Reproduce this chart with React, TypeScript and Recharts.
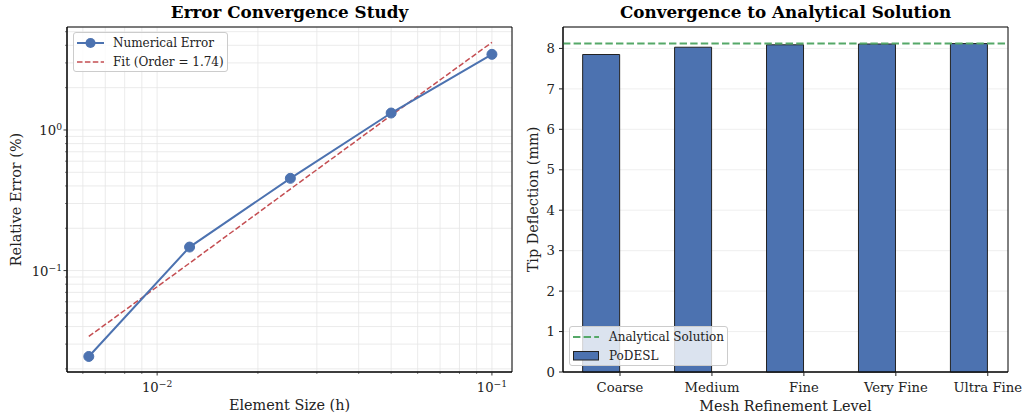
import {
  Bar,
  BarChart,
  CartesianGrid,
  Legend,
  Line,
  LineChart,
  ReferenceArea,
  ReferenceLine,
  XAxis,
  YAxis,
} from "recharts";

const FONT = "'DejaVu Serif', serif";
const TEXT = "#222";

// left panel: error vs element size (log-log)
const elementSizes = [0.00625, 0.0125, 0.025, 0.05, 0.1];
const relativeErrors = [0.0245, 0.147, 0.453, 1.32, 3.45];
const fitErrors = [0.034, 0.113, 0.38, 1.27, 4.2];
const fitOrder = 1.74;
const xDomain = [0.00538, 0.1148];
const yDomain = [0.019, 5.4];
const xLogTicks = [0.006, 0.007, 0.008, 0.009, 0.01, 0.02, 0.03, 0.04, 0.05, 0.06, 0.07, 0.08, 0.09, 0.1];
const yLogTicks = [
  0.02, 0.03, 0.04, 0.05, 0.06, 0.07, 0.08, 0.09,
  0.1, 0.2, 0.3, 0.4, 0.5, 0.6, 0.7, 0.8, 0.9,
  1, 2, 3, 4, 5,
];

// right panel: tip deflection per mesh level
const meshLevels = ["Coarse", "Medium", "Fine", "Very Fine", "Ultra Fine"];
const tipDeflection = [7.85, 8.03, 8.09, 8.11, 8.12];
const analyticalSolution = 8.125;
const deflectionTicks = [0, 1, 2, 3, 4, 5, 6, 7, 8];
const levelDomain = [-0.62, 4.22];
const deflectionDomain = [0, 8.53];
const barWidth = 0.4;

const errorData = elementSizes.map((h, i) => ({
  h,
  err: relativeErrors[i],
  fit: fitErrors[i],
}));

const deflectionData = meshLevels.map((name, i) => ({
  name,
  pos: i - barWidth / 2,
  value: tipDeflection[i],
}));

const isMajor = (v: number) => {
  const l = Math.log10(v);
  return Math.abs(l - Math.round(l)) < 1e-6;
};

const expLabel = (v: number) => {
  const e = Math.round(Math.log10(v));
  return e < 0 ? `\u2212${-e}` : `${e}`;
};

function LogXTick({ x, y, payload }: any) {
  const major = isMajor(payload.value);
  return (
    <g>
      <line x1={x} x2={x} y1={y} y2={y + (major ? 3.5 : 2)} stroke={TEXT} strokeWidth={major ? 0.9 : 0.6} />
      {major && (
        <text x={x} y={y + 20} textAnchor="middle" fontSize={13.2} fill={TEXT} fontFamily={FONT}>
          10
          <tspan dy={-5} fontSize={9.2}>
            {expLabel(payload.value)}
          </tspan>
        </text>
      )}
    </g>
  );
}

function LogYTick({ x, y, payload }: any) {
  const major = isMajor(payload.value);
  return (
    <g>
      <line x1={x - (major ? 3.5 : 2)} x2={x} y1={y} y2={y} stroke={TEXT} strokeWidth={major ? 0.9 : 0.6} />
      {major && (
        <text x={x - 5} y={y + 5} textAnchor="end" fontSize={13.2} fill={TEXT} fontFamily={FONT}>
          10
          <tspan dy={-4.5} fontSize={9.2}>
            {expLabel(payload.value)}
          </tspan>
        </text>
      )}
    </g>
  );
}

const legendBox = {
  background: "rgba(255,255,255,0.8)",
  border: "1px solid #cccccc",
  borderRadius: 3,
  boxSizing: "border-box" as const,
  fontFamily: FONT,
  fontSize: 12,
  color: TEXT,
  padding: "1px 0 0 3px",
  lineHeight: "18.5px",
  height: 40,
  whiteSpace: "nowrap" as const,
};

function ErrorLegend() {
  return (
    <div style={{ ...legendBox, width: 155 }}>
      <div style={{ display: "flex", alignItems: "center" }}>
        <svg width={27} height={12} style={{ marginRight: 9 }}>
          <line x1={0} x2={27} y1={6} y2={6} stroke="#4c72b0" strokeWidth={2} />
          <circle cx={13.5} cy={6} r={5} fill="#4c72b0" />
        </svg>
        Numerical Error
      </div>
      <div style={{ display: "flex", alignItems: "center" }}>
        <svg width={27} height={12} style={{ marginRight: 9 }}>
          <line x1={0} x2={27} y1={6} y2={6} stroke="#c44e52" strokeWidth={1.5} strokeDasharray="5.5 2.4" />
        </svg>
        {`Fit (Order = ${fitOrder.toFixed(2)})`}
      </div>
    </div>
  );
}

function DeflectionLegend() {
  return (
    <div style={{ ...legendBox, width: 159 }}>
      <div style={{ display: "flex", alignItems: "center" }}>
        <svg width={26} height={12} style={{ marginRight: 10 }}>
          <line x1={0} x2={26} y1={6} y2={6} stroke="#55a868" strokeWidth={2} strokeDasharray="7.4 3.2" />
        </svg>
        Analytical Solution
      </div>
      <div style={{ display: "flex", alignItems: "center" }}>
        <svg width={26} height={12} style={{ marginRight: 10 }}>
          <rect x={0.5} y={1.5} width={25} height={8.5} fill="#4c72b0" stroke="#222" strokeWidth={1} />
        </svg>
        PoDESL
      </div>
    </div>
  );
}

const titleStyle = {
  position: "absolute" as const,
  top: 2,
  fontFamily: FONT,
  fontWeight: "bold" as const,
  fontSize: 16.8,
  color: "#000",
  textAlign: "center" as const,
  whiteSpace: "nowrap" as const,
};

const axisLabel = { fontFamily: FONT, fontSize: 14.4, fill: TEXT };
const tickText = { fontFamily: FONT, fontSize: 13.2, fill: TEXT };

export default function App() {
  return (
    <div style={{ position: "absolute", left: 0, top: 0, width: 1027, height: 416, background: "#fff" }}>
      <div style={{ ...titleStyle, left: 67, width: 445 }}>Error Convergence Study</div>
      <div style={{ ...titleStyle, left: 563, width: 445 }}>Convergence to Analytical Solution</div>

      <div style={{ position: "absolute", left: 0, top: 0 }}>
        <LineChart width={520} height={416} data={errorData} margin={{ top: 27, right: 8, bottom: 4, left: 7 }}>
          <CartesianGrid stroke="#e6e6e6" strokeWidth={0.8} />
          <XAxis
            dataKey="h"
            type="number"
            scale="log"
            domain={xDomain}
            ticks={xLogTicks}
            interval={0}
            height={40}
            tickSize={0}
            tickMargin={0}
            tickLine={false}
            tick={<LogXTick />}
            axisLine={{ stroke: "#000", strokeWidth: 1 }}
            label={{ value: "Element Size (h)", position: "insideBottom", offset: 2.5, style: axisLabel }}
          />
          <YAxis
            type="number"
            scale="log"
            domain={yDomain}
            ticks={yLogTicks}
            interval={0}
            width={60}
            tickSize={0}
            tickMargin={0}
            tickLine={false}
            tick={<LogYTick />}
            axisLine={{ stroke: "#000", strokeWidth: 1 }}
            label={{
              value: "Relative Error (%)",
              angle: -90,
              position: "insideLeft",
              offset: 9,
              style: { ...axisLabel, textAnchor: "middle" },
            }}
          />
          <Line
            dataKey="fit"
            stroke="#c44e52"
            strokeWidth={1.5}
            strokeDasharray="5.5 2.4"
            dot={false}
            isAnimationActive={false}
          />
          <Line
            dataKey="err"
            stroke="#4c72b0"
            strokeWidth={2}
            dot={{ r: 5, fill: "#4c72b0", stroke: "#4c72b0", strokeWidth: 1 }}
            isAnimationActive={false}
          />
          <ReferenceArea
            x1={xDomain[0]}
            x2={xDomain[1]}
            y1={yDomain[0]}
            y2={yDomain[1]}
            fill="none"
            stroke="#000"
            strokeWidth={1}
            ifOverflow="visible"
          />
          <Legend
            layout="horizontal"
            verticalAlign="middle"
            align="center"
            content={() => <ErrorLegend />}
            wrapperStyle={{ left: 73, top: 32, width: "auto", height: "auto" }}
          />
        </LineChart>
      </div>

      <div style={{ position: "absolute", left: 517, top: 0 }}>
        <BarChart width={510} height={416} data={deflectionData} margin={{ top: 27, right: 19, bottom: 4, left: 6 }}>
          <CartesianGrid vertical={false} stroke="#ebebeb" strokeWidth={0.8} />
          <XAxis
            dataKey="pos"
            type="number"
            domain={levelDomain}
            ticks={[0, 1, 2, 3, 4]}
            interval={0}
            tickFormatter={(v: number) => meshLevels[v]}
            height={40}
            tickSize={4}
            tickMargin={6.5}
            tickLine={{ stroke: TEXT }}
            tick={tickText}
            axisLine={{ stroke: "#000", strokeWidth: 1 }}
            label={{ value: "Mesh Refinement Level", position: "insideBottom", offset: 1.5, style: axisLabel }}
          />
          <YAxis
            type="number"
            domain={deflectionDomain}
            ticks={deflectionTicks}
            interval={0}
            width={40}
            tickSize={4}
            tickMargin={4}
            tickLine={{ stroke: TEXT }}
            tick={tickText}
            axisLine={{ stroke: "#000", strokeWidth: 1 }}
            label={{
              value: "Tip Deflection (mm)",
              angle: -90,
              position: "insideLeft",
              offset: 10,
              style: { ...axisLabel, textAnchor: "middle" },
            }}
          />
          <Bar
            dataKey="value"
            fill="#4c72b0"
            stroke="#222"
            strokeWidth={1}
            barSize={37}
            isAnimationActive={false}
          />
          <ReferenceLine y={analyticalSolution} stroke="#55a868" strokeWidth={2} strokeDasharray="7.4 3.2" />
          <ReferenceArea
            x1={levelDomain[0]}
            x2={levelDomain[1]}
            y1={deflectionDomain[0]}
            y2={deflectionDomain[1]}
            fill="none"
            stroke="#000"
            strokeWidth={1}
            ifOverflow="visible"
          />
          <Legend
            layout="horizontal"
            verticalAlign="middle"
            align="center"
            content={() => <DeflectionLegend />}
            wrapperStyle={{ left: 52, top: 326, width: "auto", height: "auto" }}
          />
        </BarChart>
      </div>
    </div>
  );
}
